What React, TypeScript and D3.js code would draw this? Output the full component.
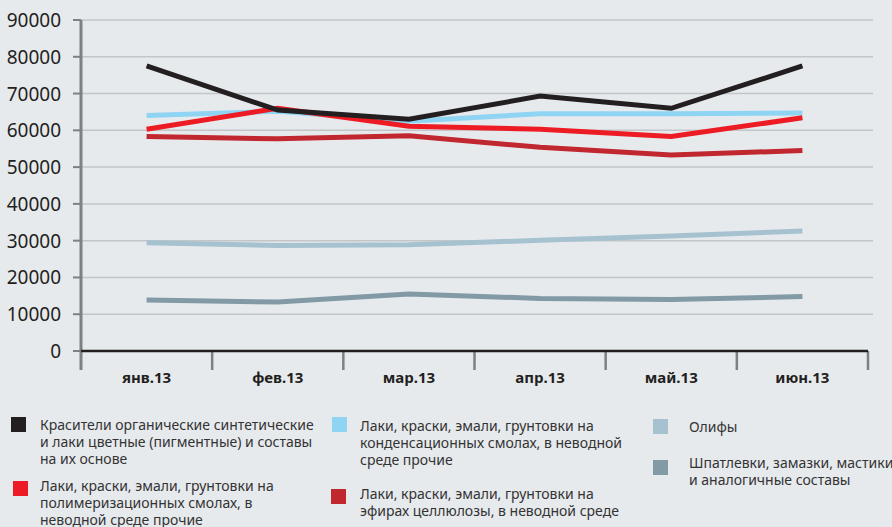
import React from "react";
import * as d3 from "d3";

const categories = ["янв.13", "фев.13", "мар.13", "апр.13", "май.13", "июн.13"];
const yTicks = [0, 10000, 20000, 30000, 40000, 50000, 60000, 70000, 80000, 90000];

const seriesNames = [
  "Красители органические синтетические и лаки цветные (пигментные) и составы на их основе",
  "Лаки, краски, эмали, грунтовки на полимеризационных смолах, в неводной среде прочие",
  "Лаки, краски, эмали, грунтовки на конденсационных смолах, в неводной среде прочие",
  "Лаки, краски, эмали, грунтовки на эфирах целлюлозы, в неводной среде",
  "Олифы",
  "Шпатлевки, замазки, мастики и аналогичные составы",
];

const dyes = [77500, 65500, 63000, 69300, 66000, 77500];
const polymer = [60300, 66000, 61100, 60300, 58300, 63400];
const condens = [64000, 65200, 62500, 64500, 64500, 64700];
const cellulose = [58300, 57700, 58500, 55400, 53300, 54500];
const olify = [29400, 28700, 28900, 30100, 31300, 32600];
const putty = [13900, 13300, 15500, 14300, 14000, 14800];

const colors = ["#231f20", "#ed1c24", "#8fd5f3", "#c1272f", "#a6c2d1", "#8299a6"];

const legendLines = [
  ["Красители органические синтетические", "и лаки цветные (пигментные) и составы", "на их основе"],
  ["Лаки, краски, эмали, грунтовки на", "полимеризационных смолах, в", "неводной среде прочие"],
  ["Лаки, краски, эмали, грунтовки на", "конденсационных смолах, в неводной", "среде прочие"],
  ["Лаки, краски, эмали, грунтовки на", "эфирах целлюлозы, в неводной среде"],
  ["Олифы"],
  ["Шпатлевки, замазки, мастики", "и аналогичные составы"],
];

export default function App() {
  const W = 892, H = 527;
  const left = 81, right = 868, top = 20, bottom = 351;
  const x = d3.scaleBand().domain(categories).range([left, right]);
  const y = d3.scaleLinear().domain([0, 90000]).range([bottom, top]);
  const data = [dyes, polymer, condens, cellulose, olify, putty];
  const order = [4, 5, 3, 2, 1, 0];
  const line = d3
    .line<number>()
    .x((_, i) => (x(categories[i]) as number) + x.bandwidth() / 2)
    .y((d) => y(d));

  const legendPos = [
    { sx: 11, sy: 417, tx: 40, ty: 430 },
    { sx: 13, sy: 481, tx: 40, ty: 491 },
    { sx: 332, sy: 417, tx: 360, ty: 431 },
    { sx: 331, sy: 489, tx: 360, ty: 499 },
    { sx: 653, sy: 419, tx: 689, ty: 432 },
    { sx: 653, sy: 460, tx: 689, ty: 468 },
  ];
  const boundaries = [...categories.map((c) => x(c) as number), right];

  return (
    <svg width={W} height={H} style={{ position: "absolute", left: 0, top: 0, background: "#e7eaed" }}>
      <rect x={0} y={0} width={W} height={H} fill="#e7eaed" />
      {yTicks.filter((t) => t > 0).map((t) => (
        <line key={t} x1={left} x2={873} y1={y(t)} y2={y(t)} stroke="#c3c5c8" strokeWidth={1.5} />
      ))}
      {yTicks.map((t) => (
        <g key={"yt" + t}>
          <line x1={73} x2={left} y1={y(t)} y2={y(t)} stroke="#7d8084" strokeWidth={2} />
          <text x={61} y={y(t) + 7} textAnchor="end" fontFamily="'Noto Sans', sans-serif" fontSize={19} fill="#231f20">
            {t}
          </text>
        </g>
      ))}
      <line x1={left} x2={left} y1={top} y2={370} stroke="#7d8084" strokeWidth={3} />
      {boundaries.slice(1).map((b, i) => (
        <line key={"xt" + i} x1={b} x2={b} y1={bottom} y2={370} stroke="#7d8084" strokeWidth={2.5} />
      ))}
      <line x1={left} x2={right} y1={bottom} y2={bottom} stroke="#231f20" strokeWidth={2.5} />
      {categories.map((c) => (
        <text key={c} x={(x(c) as number) + x.bandwidth() / 2} y={383} textAnchor="middle" fontFamily="'Noto Sans', sans-serif" fontWeight="bold" fontSize={15} fill="#231f20">
          {c}
        </text>
      ))}
      {order.map((k) => (
        <path key={"s" + k} d={line(data[k]) as string} fill="none" stroke={colors[k]} strokeWidth={5} strokeLinejoin="miter" />
      ))}
      {legendLines.map((lines, k) => {
        const p = legendPos[k];
        return (
          <g key={"lg" + k}>
            <rect x={p.sx} y={p.sy} width={15} height={15} fill={colors[k]} />
            <text fontFamily="'Noto Sans', sans-serif" fontSize={14} fill="#333">
              {lines.map((l, j) => (
                <tspan key={j} x={p.tx} y={p.ty + j * 17}>
                  {l}
                </tspan>
              ))}
            </text>
            <title>{seriesNames[k]}</title>
          </g>
        );
      })}
    </svg>
  );
}
